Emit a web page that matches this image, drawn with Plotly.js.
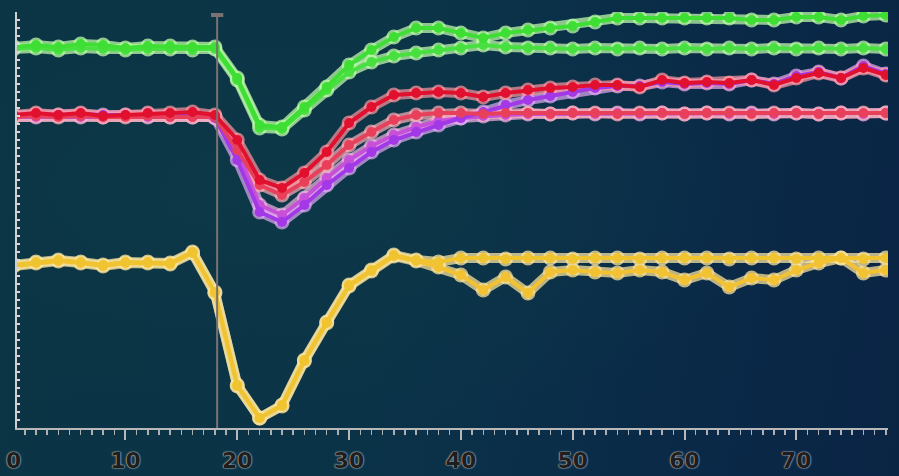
<!DOCTYPE html>
<html><head><meta charset="utf-8">
<script src="https://cdn.plot.ly/plotly-3.0.1.min.js"></script>
<style>
html,body{margin:0;padding:0;overflow:hidden;}
#chart{width:899px;height:476px;background:
 radial-gradient(ellipse at 30% 40%, rgba(14,60,72,0.55) 0%, rgba(0,0,0,0) 60%),
 linear-gradient(100deg,#0b3444 0%,#0b3348 45%,#0a2a48 75%,#0a2444 100%);}
</style></head><body>
<div id="chart"></div>
<script>
// x positions (time)
var xs = [];
for (var i = 0; i <= 78; i += 2) xs.push(i);

var greenUpper = [381,383,381,384,383,380,382,382,381,381,350,303,301,321,341,363,378,391,400,400,395,390,395,398,400,402,406,410,410,410,410,410,410,408,408,411,411,408,412,413];
var greenLower = [379,380,378,380,379,378,379,379,378,379,348,300,299,318,338,356,366,372,375,378,380,383,381,380,380,379,380,379,380,379,380,379,380,379,380,379,380,379,380,379];
var redUpper = [313,315,313,315,312,313,315,315,316,313,288,248,240,255,276,305,321,333,335,336,335,331,335,338,340,341,343,343,341,348,345,346,345,348,343,350,355,350,360,353];
var pinkFlat = [311,312,311,312,311,311,312,311,311,311,278,243,233,246,263,283,296,308,313,315,315,314,315,315,314,315,315,314,315,315,314,315,315,314,315,315,314,315,315,315];
var purpleDeep = [313,314,313,314,313,313,314,313,313,310,268,216,206,223,243,260,276,288,296,303,310,316,323,328,332,336,340,342,342,346,344,345,344,348,344,352,356,350,362,354];
var violetFlat = [311,311,312,311,311,312,311,311,311,311,278,223,213,230,250,268,282,293,301,307,310,312,313,314,314,315,314,315,314,315,314,315,314,315,314,315,314,315,314,315];
var yellowFlat = [163,166,168,166,163,166,166,165,176,136,43,10,23,68,106,143,158,173,168,166,170,170,169,170,170,169,170,170,169,170,170,170,169,170,170,169,170,170,169,170];
var yellowWavy = [162,165,167,165,162,165,165,164,175,135,42,10,22,67,105,142,157,172,167,161,153,138,151,135,156,158,156,155,158,156,148,155,141,150,148,158,165,170,155,158];

var xTickVals = [10,20,30,40,50,60,70];
var xTickText = ["10","20","30","40","50","60","70"];
var firstTickText = "0";
var cursorX = 18.2;

var series = [
  {y: yellowWavy, c:'#f2c232', h:'rgba(250,225,150,0.75)'},
  {y: yellowFlat, c:'#f0c430', h:'rgba(250,228,160,0.75)'},
  {y: violetFlat, c:'#c850d8', h:'rgba(245,180,230,0.7)'},
  {y: purpleDeep, c:'#a238e6', h:'rgba(225,170,245,0.7)'},
  {y: pinkFlat, c:'#e8405a', h:'rgba(255,175,185,0.7)'},
  {y: redUpper, c:'#e0102e', h:'rgba(255,150,160,0.7)'},
  {y: greenLower, c:'#48e040', h:'rgba(190,250,170,0.75)'},
  {y: greenUpper, c:'#3ede34', h:'rgba(185,250,165,0.75)'}
];

var traces = [];
series.forEach(function(s){
  traces.push({x: xs, y: s.y, type:'scatter', mode:'lines+markers', hoverinfo:'skip',
    line:{color:s.h, width:10}, marker:{color:s.h, size:15}});
});
series.forEach(function(s){
  traces.push({x: xs, y: s.y, type:'scatter', mode:'lines+markers', hoverinfo:'skip',
    line:{color:s.c, width:4}, marker:{color:s.c, size:10}});
});

var lblFont = {family:'DejaVu Sans, Liberation Sans', size:22, color:'#1e1e1e', weight:'bold',
  shadow:'0 0 2px #d4d4d4, 0 0 1px #d4d4d4'};

var layout = {
  width: 899, height: 476,
  margin: {l:17, r:11, t:12, b:48},
  paper_bgcolor:'rgba(0,0,0,0)', plot_bgcolor:'rgba(0,0,0,0)',
  showlegend:false,
  xaxis: {range:[0.3,78.2], showgrid:false, zeroline:false, showline:true, linecolor:'#b8b8b8', linewidth:2,
    ticks:'outside', ticklen:10, tickwidth:2, tickcolor:'#b8b8b8',
    tickvals:xTickVals, ticktext:xTickText, tickfont:lblFont, ticklabelstandoff:2,
    minor:{dtick:1, ticks:'outside', ticklen:5, tickwidth:1.5, tickcolor:'#b0b0b0', showgrid:false}},
  yaxis: {range:[0,416], showgrid:false, zeroline:false, showline:true, linecolor:'#d0d0d0', linewidth:2,
    ticks:'inside', ticklen:3, tickwidth:2, tickcolor:'#d8d8d8', dtick:8, showticklabels:false},
  annotations: [
    {xref:'paper', yref:'paper', x:-0.0039, y:0, yshift:-18, xanchor:'center', yanchor:'top', showarrow:false,
     text:firstTickText, font:lblFont}
  ],
  shapes: [
    {type:'line', xref:'x', yref:'y', x0:cursorX, x1:cursorX, y0:0, y1:413, line:{color:'#7a7272', width:2}},
    {type:'line', xref:'x', yref:'y', x0:cursorX-0.55, x1:cursorX+0.55, y0:413, y1:413, line:{color:'#7a7272', width:4}}
  ]
};

Plotly.newPlot('chart', traces, layout, {staticPlot:true, displayModeBar:false});
</script>
</body></html>
